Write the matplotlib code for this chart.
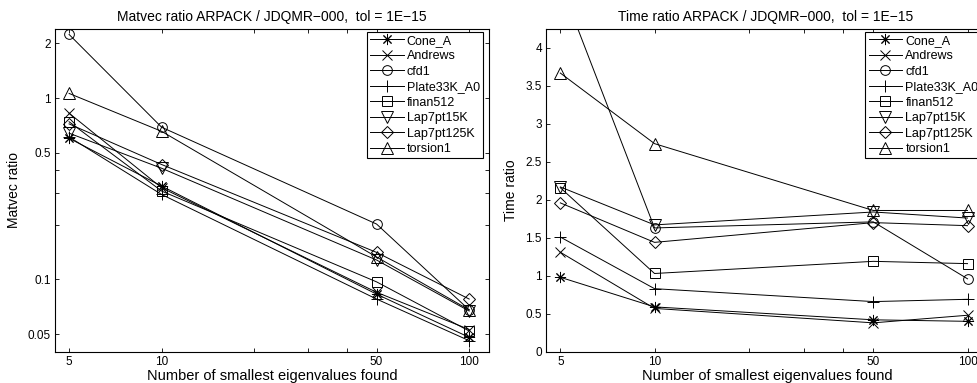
import numpy as np
import matplotlib.pyplot as plt
from matplotlib.ticker import FixedLocator, NullFormatter

plt.rcParams['font.family'] = ['Liberation Sans', 'DejaVu Sans']

# --- Data ---
nev = [5, 10, 50, 100]
names = ['Cone_A', 'Andrews', 'cfd1', 'Plate33K_A0', 'finan512',
         'Lap7pt15K', 'Lap7pt125K', 'torsion1']

# Matvec ratio ARPACK / JDQMR-000
mv_cone = [0.60, 0.327, 0.083, 0.048]
mv_andrews = [0.825, 0.32, 0.085, 0.053]
mv_cfd1 = [2.24, 0.69, 0.202, 0.068]
mv_plate = [0.61, 0.294, 0.078, 0.046]
mv_finan = [0.74, 0.307, 0.097, 0.052]
mv_lap15 = [0.64, 0.41, 0.128, 0.067]
mv_lap125 = [0.72, 0.43, 0.141, 0.078]
mv_torsion = [1.06, 0.655, 0.133, 0.068]

# Time ratio ARPACK / JDQMR-000
t_cone = [0.98, 0.59, 0.42, 0.40]
t_andrews = [1.31, 0.57, 0.38, 0.48]
t_cfd1 = [4.85, 1.63, 1.71, 0.96]
t_plate = [1.51, 0.83, 0.66, 0.69]
t_finan = [2.16, 1.03, 1.19, 1.16]
t_lap15 = [2.17, 1.67, 1.84, 1.76]
t_lap125 = [1.96, 1.44, 1.70, 1.66]
t_torsion = [3.67, 2.74, 1.86, 1.86]

matvec = [mv_cone, mv_andrews, mv_cfd1, mv_plate, mv_finan, mv_lap15, mv_lap125, mv_torsion]
times = [t_cone, t_andrews, t_cfd1, t_plate, t_finan, t_lap15, t_lap125, t_torsion]

# matlab-like markers: asterisk, x, o, +, square, v, diamond, ^
markers = [(8, 2, 0), 'x', 'o', '+', 's', 'v', 'D', '^']
msizes = [8, 7, 7, 8.5, 6.5, 8.5, 6, 8.5]


def style_axes(ax):
    ax.tick_params(which='both', direction='in', top=True, right=True,
                   length=3, width=0.6, labelsize=8.5, pad=3)
    for s in ax.spines.values():
        s.set_linewidth(0.8)


def draw_lines(ax, data):
    for vals, name, mk, ms in zip(data, names, markers, msizes):
        ax.plot(nev, vals, color='black', lw=0.7, marker=mk, ms=ms,
                mfc='none', mec='black', mew=0.7, label=name)


def add_legend(ax, width_px):
    leg = ax.legend(loc='upper right', bbox_to_anchor=(1 - 6 / width_px, 1 - 2.7 / 322.7),
                    borderaxespad=0, fontsize=9, handlelength=2.7, handletextpad=0.25,
                    labelspacing=0.28, borderpad=0.25, fancybox=False,
                    edgecolor='black', framealpha=1)
    leg.get_frame().set_linewidth(0.8)


fig = plt.figure(figsize=(9.77, 3.83), dpi=100)

# left panel: matvec ratio, log-log
ax1 = fig.add_axes([55 / 977, 1 - 351.7 / 383, 434 / 977, 322.7 / 383])
draw_lines(ax1, matvec)
ax1.set_xscale('log')
ax1.set_yscale('log')
ax1.set_xlim(4.5, 116)
ax1.set_ylim(0.04, 2.4)
ax1.xaxis.set_major_locator(FixedLocator(nev))
ax1.set_xticklabels(['5', '10', '50', '100'])
ax1.xaxis.set_minor_locator(FixedLocator([20, 30, 40]))
ax1.xaxis.set_minor_formatter(NullFormatter())
ax1.yaxis.set_major_locator(FixedLocator([0.05, 0.1, 0.5, 1, 2]))
ax1.set_yticklabels(['0.05', '0.1', '0.5', '1', '2'])
ax1.yaxis.set_minor_locator(FixedLocator([0.2, 0.3, 0.4]))
ax1.yaxis.set_minor_formatter(NullFormatter())
style_axes(ax1)
ax1.set_title('Matvec ratio ARPACK / JDQMR\u2212000,  tol = 1E\u221215', fontsize=10, pad=6)
ax1.set_xlabel('Number of smallest eigenvalues found', fontsize=10.5, labelpad=1)
ax1.set_ylabel('Matvec ratio', fontsize=10, labelpad=5)
add_legend(ax1, 434)

# right panel: time ratio, log x, linear y (cropped at the right edge)
ax2 = fig.add_axes([546 / 977, 1 - 351.7 / 383, 441.7 / 977, 322.7 / 383])
draw_lines(ax2, times)
ax2.set_xscale('log')
ax2.set_xlim(4.5, 116)
ax2.set_ylim(0, 4.25)
ax2.xaxis.set_major_locator(FixedLocator(nev))
ax2.set_xticklabels(['5', '10', '50', '100'])
ax2.xaxis.set_minor_locator(FixedLocator([20, 30, 40]))
ax2.xaxis.set_minor_formatter(NullFormatter())
ax2.set_yticks(np.arange(0, 4.01, 0.5))
ax2.set_yticklabels(['0', '0.5', '1', '1.5', '2', '2.5', '3', '3.5', '4'])
style_axes(ax2)
ax2.set_title('Time ratio ARPACK / JDQMR\u2212000,  tol = 1E\u221215', fontsize=10, pad=6,
              x=(766 - 546) / 441.7)
ax2.set_xlabel('Number of smallest eigenvalues found', fontsize=10.5, labelpad=1,
               x=(767 - 546) / 441.7)
ax2.set_ylabel('Time ratio', fontsize=10, labelpad=5)
add_legend(ax2, 441.7)

fig.savefig('out.png', dpi=100)
